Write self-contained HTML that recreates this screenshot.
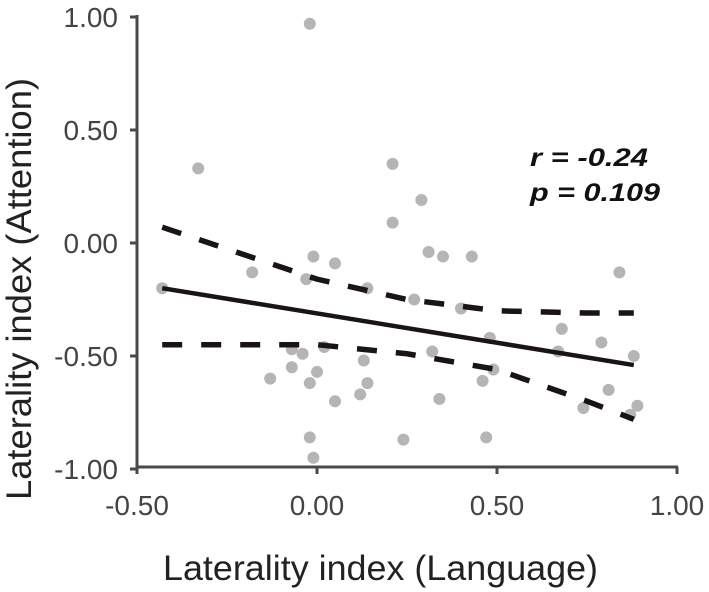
<!DOCTYPE html>
<html><head><meta charset="utf-8"><style>
body{margin:0;background:#fff;}
svg{display:block;font-family:"Liberation Sans",Arial,sans-serif;}
</style></head><body>
<svg id="chart" width="709" height="592" viewBox="0 0 709 592">
<g id="axes"></g>
<g id="pts"></g>
<g id="lines"></g>
<text x="530" y="166" font-size="25" font-weight="bold" font-style="italic" fill="#111" textLength="118" lengthAdjust="spacingAndGlyphs">r = -0.24</text>
<text x="530" y="201" font-size="25" font-weight="bold" font-style="italic" fill="#111" textLength="130" lengthAdjust="spacingAndGlyphs">p = 0.109</text>
<text x="163" y="580" font-size="35" fill="#222" textLength="435" lengthAdjust="spacingAndGlyphs">Laterality index (Language)</text>
<text transform="translate(31,500) rotate(-90)" font-size="35" fill="#222" textLength="422" lengthAdjust="spacingAndGlyphs">Laterality index (Attention)</text>
</svg>
<script>
const xs=[-0.02,-0.33,0.21,0.29,0.21,0.31,0.35,0.43,0.84,-0.01,0.05,-0.18,-0.03,-0.43,0.14,0.27,0.40,0.68,0.79,0.48,0.67,0.88,-0.07,-0.04,0.02,0.32,-0.07,0.00,0.13,0.49,0.46,-0.13,-0.02,0.14,0.12,0.05,0.34,0.81,0.74,0.89,0.87,-0.02,0.24,0.47,-0.01];
const ys=[0.97,0.33,0.35,0.19,0.09,-0.04,-0.06,-0.06,-0.13,-0.06,-0.09,-0.13,-0.16,-0.20,-0.20,-0.25,-0.29,-0.38,-0.44,-0.42,-0.48,-0.50,-0.47,-0.49,-0.46,-0.48,-0.55,-0.57,-0.52,-0.56,-0.61,-0.60,-0.62,-0.62,-0.67,-0.70,-0.69,-0.65,-0.73,-0.72,-0.76,-0.86,-0.87,-0.86,-0.95];
const fitX=[-0.43,0.88];
const fitY=[-0.20,-0.54];
const ciX=[-0.43,0,0.25,0.5,0.75,0.88];
const ciUpper=[0.07,-0.16,-0.25,-0.30,-0.31,-0.31];
const ciLower=[-0.45,-0.45,-0.49,-0.56,-0.70,-0.78];
const xTicks=[-0.5,0,0.5,1.0];
const xTickLabels=["-0.50","0.00","0.50","1.00"];
const yTicks=[1,0.5,0,-0.5,-1];
const yTickLabels=["1.00","0.50","0.00","-0.50","-1.00"];
const X=v=>317+v*360, Y=v=>243-v*226;
const NS="http://www.w3.org/2000/svg";
function mk(t,a,p){const e=document.createElementNS(NS,t);for(const k in a)e.setAttribute(k,a[k]);p.appendChild(e);return e;}
const ax=document.getElementById('axes');
let e=mk('line',{x1:137,y1:15,x2:137,y2:467,stroke:'#4a4a4a','stroke-width':3},ax);


e=mk('line',{x1:136,y1:467,x2:X(1)+1,y2:467,stroke:'#4a4a4a','stroke-width':3},ax);


xTicks.forEach((v,i)=>{
 mk('line',{x1:X(v),y1:467,x2:X(v),y2:474,stroke:'#4a4a4a','stroke-width':3},ax);
 const t=mk('text',{x:X(v),y:515,'font-size':28,'text-anchor':'middle',fill:'#444'},ax);
 t.textContent=xTickLabels[i];
 
 
});
yTicks.forEach((v,i)=>{
 mk('line',{x1:130,y1:Y(v),x2:137,y2:Y(v),stroke:'#4a4a4a','stroke-width':3},ax);
 const t=mk('text',{x:118,y:Y(v)+10,'font-size':28,'text-anchor':'end',fill:'#444'},ax);
 t.textContent=yTickLabels[i];
 
 
});
const pg=document.getElementById('pts');
xs.forEach((v,i)=>{
 const c=mk('circle',{cx:X(v),cy:Y(ys[i]),r:6,fill:'#b5b5b5'},pg);
 
 
});
const lg=document.getElementById('lines');
const fl=mk('line',{x1:X(fitX[0]),y1:Y(fitY[0]),x2:X(fitX[1]),y2:Y(fitY[1]),stroke:'#1a1414','stroke-width':4.5},lg);


function path(arr){return ciX.map((v,i)=>(i?'L':'M')+X(v)+','+Y(arr[i])).join(' ');}
const up=mk('path',{d:path(ciUpper),fill:'none',stroke:'#1a1414','stroke-width':5.5,'stroke-dasharray':'20 19'},lg);


const lo=mk('path',{d:path(ciLower),fill:'none',stroke:'#1a1414','stroke-width':5.5,'stroke-dasharray':'20 19'},lg);


</script>
</body></html>
